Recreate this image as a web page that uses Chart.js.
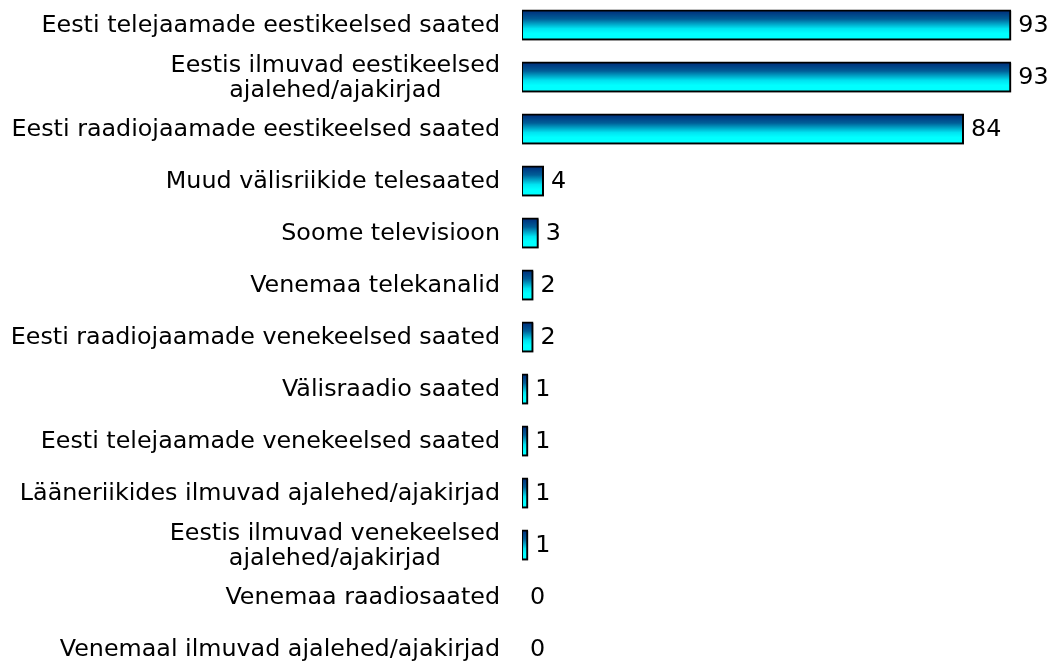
<!DOCTYPE html>
<html lang="et">
<head>
  <meta charset="UTF-8">
  <title>Meediakanalid</title>
  <style>
    html, body {
      margin: 0;
      padding: 0;
      background: #ffffff;
      overflow: hidden;
    }
    #wrap {
      position: absolute;
      left: 0;
      top: -1px;
      width: 1052px;
      height: 676px;
    }
  </style>
  <script src="https://cdn.jsdelivr.net/npm/chart.js"></script>
</head>
<body>
  <div id="wrap">
    <canvas id="mediaChart"></canvas>
  </div>

  <script>
    // categories (top to bottom)
    const categories = [
      'Eesti telejaamade eestikeelsed saated',
      ['Eestis ilmuvad eestikeelsed', 'ajalehed/ajakirjad'],
      'Eesti raadiojaamade eestikeelsed saated',
      'Muud välisriikide telesaated',
      'Soome televisioon',
      'Venemaa telekanalid',
      'Eesti raadiojaamade venekeelsed saated',
      'Välisraadio saated',
      'Eesti telejaamade venekeelsed saated',
      'Lääneriikides ilmuvad ajalehed/ajakirjad',
      ['Eestis ilmuvad venekeelsed', 'ajalehed/ajakirjad'],
      'Venemaa raadiosaated',
      'Venemaal ilmuvad ajalehed/ajakirjad'
    ];
    const values = [93, 93, 84, 4, 3, 2, 2, 1, 1, 1, 1, 0, 0];

    const fontSize = 23.8;
    const fontCss = fontSize + 'px "DejaVu Sans"';

    // vertical navy -> cyan gradient per bar
    function barGradient(context) {
      const chart = context.chart;
      if (!chart.chartArea) return '#00ffff';
      const yc = chart.scales.y.getPixelForValue(context.dataIndex);
      const g = chart.ctx.createLinearGradient(0, yc - 15, 0, yc + 15);
      g.addColorStop(0, '#002a78');
      g.addColorStop(0.3, '#005f98');
      g.addColorStop(0.62, '#00e4f2');
      g.addColorStop(0.78, '#00ffff');
      g.addColorStop(1, '#00ffff');
      return g;
    }

    const barShadow = {
      id: 'barShadow',
      beforeDatasetsDraw(chart) {
        const ctx = chart.ctx;
        ctx.save();
        ctx.shadowColor = 'rgba(0,0,0,0.45)';
        ctx.shadowOffsetX = 1;
        ctx.shadowOffsetY = 1.5;
        ctx.shadowBlur = 0;
      },
      afterDatasetsDraw(chart) {
        chart.ctx.restore();
      }
    };

    // category labels: block right-aligned to the axis, lines centred in the block
    const categoryLabels = {
      id: 'categoryLabels',
      afterDraw(chart) {
        const ctx = chart.ctx;
        const yScale = chart.scales.y;
        const right = chart.chartArea.left - 22;
        const lineH = 25;
        ctx.save();
        ctx.font = fontCss;
        ctx.fillStyle = '#000';
        ctx.textAlign = 'center';
        ctx.textBaseline = 'middle';
        categories.forEach((lab, i) => {
          const lines = Array.isArray(lab) ? lab : [lab];
          const w = Math.max(...lines.map(l => ctx.measureText(l).width));
          const cx = right - w / 2;
          const yc = yScale.getPixelForValue(i);
          lines.forEach((l, k) => {
            ctx.fillText(l, cx, yc + 1 + (k - (lines.length - 1) / 2) * lineH);
          });
        });
        ctx.restore();
      }
    };

    const valueLabels = {
      id: 'valueLabels',
      afterDraw(chart) {
        const ctx = chart.ctx;
        const meta = chart.getDatasetMeta(0);
        ctx.save();
        ctx.font = fontCss;
        ctx.fillStyle = '#000';
        ctx.textAlign = 'left';
        ctx.textBaseline = 'middle';
        meta.data.forEach((bar, i) => {
          ctx.fillText(String(values[i]), bar.x + 8, bar.y + 1);
        });
        ctx.restore();
      }
    };

    const mediaChart = new Chart(document.getElementById('mediaChart'), {
      type: 'bar',
      data: {
        labels: categories,
        datasets: [{
          data: values,
          backgroundColor: barGradient,
          borderColor: '#000000',
          borderWidth: 2,
          borderSkipped: false,
          inflateAmount: 1,
          barThickness: 29
        }]
      },
      options: {
        indexAxis: 'y',
        responsive: true,
        maintainAspectRatio: false,
        animation: false,
        layout: { padding: { left: 0, right: 5, top: 0, bottom: 0 } },
        plugins: {
          legend: { display: false },
          tooltip: { enabled: false }
        },
        scales: {
          x: {
            display: false,
            min: 0,
            max: 100
          },
          y: {
            grid: { display: false, drawTicks: false },
            border: { display: false },
            ticks: { display: false },
            afterFit(scale) {
              scale.width = 522;
              scale.paddingTop = 0;
              scale.paddingBottom = 0;
            }
          }
        }
      },
      plugins: [barShadow, categoryLabels, valueLabels]
    });
  </script>
</body>
</html>
